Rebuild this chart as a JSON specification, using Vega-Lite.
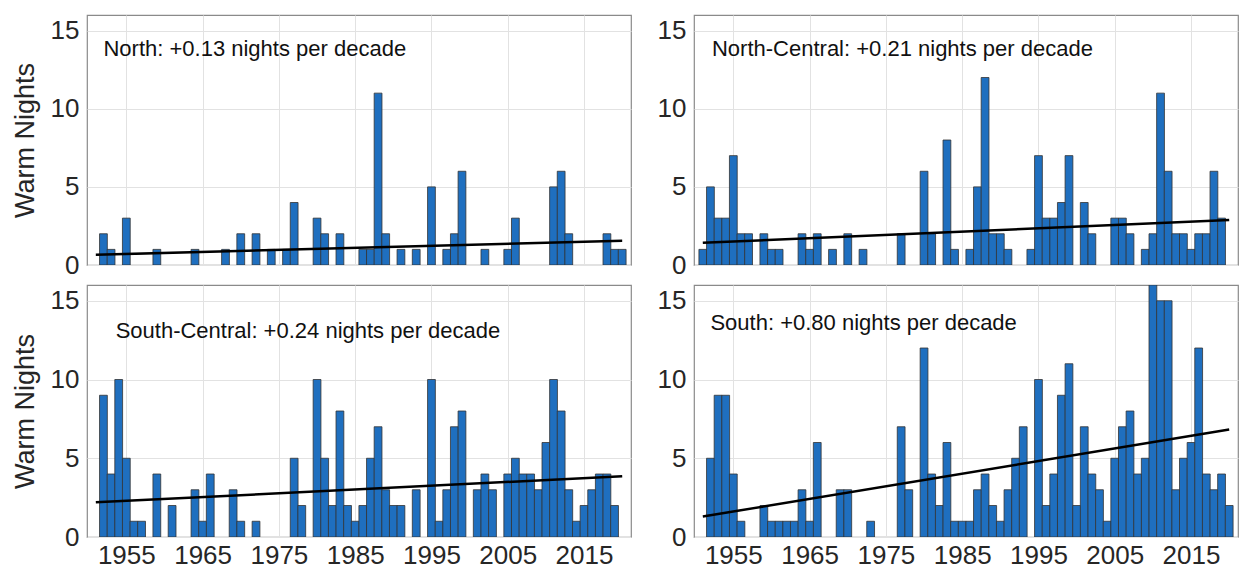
{
  "$schema": "https://vega.github.io/schema/vega-lite/v6.json",
  "background": "white",
  "padding": {"left": 10, "top": 14, "right": 0, "bottom": 0},
  "datasets": {
    "bars": [
      {"region": "North", "year": 1952, "nights": 2}, {"region": "North", "year": 1953, "nights": 1}, {"region": "North", "year": 1955, "nights": 3}, {"region": "North", "year": 1959, "nights": 1}, {"region": "North", "year": 1964, "nights": 1}, {"region": "North", "year": 1968, "nights": 1}, {"region": "North", "year": 1970, "nights": 2}, {"region": "North", "year": 1972, "nights": 2}, {"region": "North", "year": 1974, "nights": 1}, {"region": "North", "year": 1976, "nights": 1}, {"region": "North", "year": 1977, "nights": 4}, {"region": "North", "year": 1980, "nights": 3}, {"region": "North", "year": 1981, "nights": 2}, {"region": "North", "year": 1983, "nights": 2}, {"region": "North", "year": 1986, "nights": 1}, {"region": "North", "year": 1987, "nights": 1}, {"region": "North", "year": 1988, "nights": 11}, {"region": "North", "year": 1989, "nights": 2}, {"region": "North", "year": 1991, "nights": 1}, {"region": "North", "year": 1993, "nights": 1}, {"region": "North", "year": 1995, "nights": 5}, {"region": "North", "year": 1997, "nights": 1}, {"region": "North", "year": 1998, "nights": 2}, {"region": "North", "year": 1999, "nights": 6}, {"region": "North", "year": 2002, "nights": 1}, {"region": "North", "year": 2005, "nights": 1}, {"region": "North", "year": 2006, "nights": 3}, {"region": "North", "year": 2011, "nights": 5}, {"region": "North", "year": 2012, "nights": 6}, {"region": "North", "year": 2013, "nights": 2}, {"region": "North", "year": 2018, "nights": 2}, {"region": "North", "year": 2019, "nights": 1}, {"region": "North", "year": 2020, "nights": 1},
      {"region": "North-Central", "year": 1951, "nights": 1}, {"region": "North-Central", "year": 1952, "nights": 5}, {"region": "North-Central", "year": 1953, "nights": 3}, {"region": "North-Central", "year": 1954, "nights": 3}, {"region": "North-Central", "year": 1955, "nights": 7}, {"region": "North-Central", "year": 1956, "nights": 2}, {"region": "North-Central", "year": 1957, "nights": 2}, {"region": "North-Central", "year": 1959, "nights": 2}, {"region": "North-Central", "year": 1960, "nights": 1}, {"region": "North-Central", "year": 1961, "nights": 1}, {"region": "North-Central", "year": 1964, "nights": 2}, {"region": "North-Central", "year": 1965, "nights": 1}, {"region": "North-Central", "year": 1966, "nights": 2}, {"region": "North-Central", "year": 1968, "nights": 1}, {"region": "North-Central", "year": 1970, "nights": 2}, {"region": "North-Central", "year": 1972, "nights": 1}, {"region": "North-Central", "year": 1977, "nights": 2}, {"region": "North-Central", "year": 1980, "nights": 6}, {"region": "North-Central", "year": 1981, "nights": 2}, {"region": "North-Central", "year": 1983, "nights": 8}, {"region": "North-Central", "year": 1984, "nights": 1}, {"region": "North-Central", "year": 1986, "nights": 1}, {"region": "North-Central", "year": 1987, "nights": 5}, {"region": "North-Central", "year": 1988, "nights": 12}, {"region": "North-Central", "year": 1989, "nights": 2}, {"region": "North-Central", "year": 1990, "nights": 2}, {"region": "North-Central", "year": 1991, "nights": 1}, {"region": "North-Central", "year": 1994, "nights": 1}, {"region": "North-Central", "year": 1995, "nights": 7}, {"region": "North-Central", "year": 1996, "nights": 3}, {"region": "North-Central", "year": 1997, "nights": 3}, {"region": "North-Central", "year": 1998, "nights": 4}, {"region": "North-Central", "year": 1999, "nights": 7}, {"region": "North-Central", "year": 2001, "nights": 4}, {"region": "North-Central", "year": 2002, "nights": 2}, {"region": "North-Central", "year": 2005, "nights": 3}, {"region": "North-Central", "year": 2006, "nights": 3}, {"region": "North-Central", "year": 2007, "nights": 2}, {"region": "North-Central", "year": 2009, "nights": 1}, {"region": "North-Central", "year": 2010, "nights": 2}, {"region": "North-Central", "year": 2011, "nights": 11}, {"region": "North-Central", "year": 2012, "nights": 6}, {"region": "North-Central", "year": 2013, "nights": 2}, {"region": "North-Central", "year": 2014, "nights": 2}, {"region": "North-Central", "year": 2015, "nights": 1}, {"region": "North-Central", "year": 2016, "nights": 2}, {"region": "North-Central", "year": 2017, "nights": 2}, {"region": "North-Central", "year": 2018, "nights": 6}, {"region": "North-Central", "year": 2019, "nights": 3},
      {"region": "South-Central", "year": 1952, "nights": 9}, {"region": "South-Central", "year": 1953, "nights": 4}, {"region": "South-Central", "year": 1954, "nights": 10}, {"region": "South-Central", "year": 1955, "nights": 5}, {"region": "South-Central", "year": 1956, "nights": 1}, {"region": "South-Central", "year": 1957, "nights": 1}, {"region": "South-Central", "year": 1959, "nights": 4}, {"region": "South-Central", "year": 1961, "nights": 2}, {"region": "South-Central", "year": 1964, "nights": 3}, {"region": "South-Central", "year": 1965, "nights": 1}, {"region": "South-Central", "year": 1966, "nights": 4}, {"region": "South-Central", "year": 1969, "nights": 3}, {"region": "South-Central", "year": 1970, "nights": 1}, {"region": "South-Central", "year": 1972, "nights": 1}, {"region": "South-Central", "year": 1977, "nights": 5}, {"region": "South-Central", "year": 1978, "nights": 2}, {"region": "South-Central", "year": 1980, "nights": 10}, {"region": "South-Central", "year": 1981, "nights": 5}, {"region": "South-Central", "year": 1982, "nights": 2}, {"region": "South-Central", "year": 1983, "nights": 8}, {"region": "South-Central", "year": 1984, "nights": 2}, {"region": "South-Central", "year": 1985, "nights": 1}, {"region": "South-Central", "year": 1986, "nights": 2}, {"region": "South-Central", "year": 1987, "nights": 5}, {"region": "South-Central", "year": 1988, "nights": 7}, {"region": "South-Central", "year": 1989, "nights": 3}, {"region": "South-Central", "year": 1990, "nights": 2}, {"region": "South-Central", "year": 1991, "nights": 2}, {"region": "South-Central", "year": 1993, "nights": 3}, {"region": "South-Central", "year": 1995, "nights": 10}, {"region": "South-Central", "year": 1996, "nights": 1}, {"region": "South-Central", "year": 1997, "nights": 3}, {"region": "South-Central", "year": 1998, "nights": 7}, {"region": "South-Central", "year": 1999, "nights": 8}, {"region": "South-Central", "year": 2001, "nights": 3}, {"region": "South-Central", "year": 2002, "nights": 4}, {"region": "South-Central", "year": 2003, "nights": 3}, {"region": "South-Central", "year": 2005, "nights": 4}, {"region": "South-Central", "year": 2006, "nights": 5}, {"region": "South-Central", "year": 2007, "nights": 4}, {"region": "South-Central", "year": 2008, "nights": 4}, {"region": "South-Central", "year": 2009, "nights": 3}, {"region": "South-Central", "year": 2010, "nights": 6}, {"region": "South-Central", "year": 2011, "nights": 10}, {"region": "South-Central", "year": 2012, "nights": 8}, {"region": "South-Central", "year": 2013, "nights": 3}, {"region": "South-Central", "year": 2014, "nights": 1}, {"region": "South-Central", "year": 2015, "nights": 2}, {"region": "South-Central", "year": 2016, "nights": 3}, {"region": "South-Central", "year": 2017, "nights": 4}, {"region": "South-Central", "year": 2018, "nights": 4}, {"region": "South-Central", "year": 2019, "nights": 2},
      {"region": "South", "year": 1952, "nights": 5}, {"region": "South", "year": 1953, "nights": 9}, {"region": "South", "year": 1954, "nights": 9}, {"region": "South", "year": 1955, "nights": 4}, {"region": "South", "year": 1956, "nights": 1}, {"region": "South", "year": 1959, "nights": 2}, {"region": "South", "year": 1960, "nights": 1}, {"region": "South", "year": 1961, "nights": 1}, {"region": "South", "year": 1962, "nights": 1}, {"region": "South", "year": 1963, "nights": 1}, {"region": "South", "year": 1964, "nights": 3}, {"region": "South", "year": 1965, "nights": 1}, {"region": "South", "year": 1966, "nights": 6}, {"region": "South", "year": 1969, "nights": 3}, {"region": "South", "year": 1970, "nights": 3}, {"region": "South", "year": 1973, "nights": 1}, {"region": "South", "year": 1977, "nights": 7}, {"region": "South", "year": 1978, "nights": 3}, {"region": "South", "year": 1980, "nights": 12}, {"region": "South", "year": 1981, "nights": 4}, {"region": "South", "year": 1982, "nights": 2}, {"region": "South", "year": 1983, "nights": 6}, {"region": "South", "year": 1984, "nights": 1}, {"region": "South", "year": 1985, "nights": 1}, {"region": "South", "year": 1986, "nights": 1}, {"region": "South", "year": 1987, "nights": 3}, {"region": "South", "year": 1988, "nights": 4}, {"region": "South", "year": 1989, "nights": 2}, {"region": "South", "year": 1990, "nights": 1}, {"region": "South", "year": 1991, "nights": 3}, {"region": "South", "year": 1992, "nights": 5}, {"region": "South", "year": 1993, "nights": 7}, {"region": "South", "year": 1995, "nights": 10}, {"region": "South", "year": 1996, "nights": 2}, {"region": "South", "year": 1997, "nights": 4}, {"region": "South", "year": 1998, "nights": 9}, {"region": "South", "year": 1999, "nights": 11}, {"region": "South", "year": 2000, "nights": 2}, {"region": "South", "year": 2001, "nights": 7}, {"region": "South", "year": 2002, "nights": 4}, {"region": "South", "year": 2003, "nights": 3}, {"region": "South", "year": 2004, "nights": 1}, {"region": "South", "year": 2005, "nights": 5}, {"region": "South", "year": 2006, "nights": 7}, {"region": "South", "year": 2007, "nights": 8}, {"region": "South", "year": 2008, "nights": 4}, {"region": "South", "year": 2009, "nights": 5}, {"region": "South", "year": 2010, "nights": 16}, {"region": "South", "year": 2011, "nights": 15}, {"region": "South", "year": 2012, "nights": 15}, {"region": "South", "year": 2013, "nights": 3}, {"region": "South", "year": 2014, "nights": 5}, {"region": "South", "year": 2015, "nights": 6}, {"region": "South", "year": 2016, "nights": 12}, {"region": "South", "year": 2017, "nights": 4}, {"region": "South", "year": 2018, "nights": 3}, {"region": "South", "year": 2019, "nights": 4}, {"region": "South", "year": 2020, "nights": 2}
    ],
    "trends": [
      {"region": "North", "year": 1951, "trend": 0.65}, {"region": "North", "year": 2020, "trend": 1.55},
      {"region": "North-Central", "year": 1951, "trend": 1.42}, {"region": "North-Central", "year": 2020, "trend": 2.88},
      {"region": "South-Central", "year": 1951, "trend": 2.2}, {"region": "South-Central", "year": 2020, "trend": 3.86},
      {"region": "South", "year": 1951, "trend": 1.3}, {"region": "South", "year": 2020, "trend": 6.82}
    ],
    "labels": [
      {"region": "North", "label": "North: +0.13 nights per decade"},
      {"region": "North-Central", "label": "North-Central: +0.21 nights per decade"},
      {"region": "South-Central", "label": "South-Central: +0.24 nights per decade"},
      {"region": "South", "label": "South: +0.80 nights per decade"}
    ]
  },
  "config": {
    "font": "Liberation Sans",
    "view": {"stroke": "#8a8a8a", "strokeWidth": 1.2},
    "axis": {
      "labelFont": "Liberation Sans", "labelFontSize": 26, "labelColor": "#262626",
      "titleFont": "Liberation Sans", "titleFontSize": 27, "titleFontWeight": "normal", "titleColor": "#262626",
      "gridColor": "#e2e2e2", "gridWidth": 1, "domain": false, "ticks": false
    }
  },
  "spacing": 5,
  "vconcat": [
    {
      "spacing": 24,
      "hconcat": [
        {
          "width": 544, "height": 250,
          "layer": [
            {"data": {"name": "bars"}, "transform": [{"filter": "datum.region === 'North'"}],
             "mark": {"type": "bar", "size": 7.8, "fill": "#1f6fbf", "stroke": "#333333", "strokeWidth": 0.8, "clip": true},
             "encoding": {
               "x": {"field": "year", "type": "quantitative", "scale": {"domain": [1950.5, 2020.5], "nice": false, "zero": false}, "axis": {"values": [1955, 1965, 1975, 1985, 1995, 2005, 2015], "labels": false, "title": null, "grid": true}},
               "y": {"field": "nights", "type": "quantitative", "scale": {"domain": [0, 16], "nice": false}, "axis": {"values": [0, 5, 10, 15], "title": "Warm Nights", "grid": true, "labelPadding": 8, "titlePadding": 11}}
             }},
            {"data": {"name": "trends"}, "transform": [{"filter": "datum.region === 'North'"}],
             "mark": {"type": "line", "color": "black", "strokeWidth": 2.5},
             "encoding": {"x": {"field": "year", "type": "quantitative"}, "y": {"field": "trend", "type": "quantitative"}}},
            {"data": {"name": "labels"}, "transform": [{"filter": "datum.region === 'North'"}],
             "mark": {"type": "text", "align": "left", "baseline": "middle", "fontSize": 22, "color": "#111111"},
             "encoding": {"x": {"datum": 1952.0, "type": "quantitative"}, "y": {"datum": 13.85, "type": "quantitative"}, "text": {"field": "label"}}}
          ]
        },
        {
          "width": 544, "height": 250,
          "layer": [
            {"data": {"name": "bars"}, "transform": [{"filter": "datum.region === 'North-Central'"}],
             "mark": {"type": "bar", "size": 7.8, "fill": "#1f6fbf", "stroke": "#333333", "strokeWidth": 0.8, "clip": true},
             "encoding": {
               "x": {"field": "year", "type": "quantitative", "scale": {"domain": [1950.5, 2020.5], "nice": false, "zero": false}, "axis": {"values": [1955, 1965, 1975, 1985, 1995, 2005, 2015], "labels": false, "title": null, "grid": true}},
               "y": {"field": "nights", "type": "quantitative", "scale": {"domain": [0, 16], "nice": false}, "axis": {"values": [0, 5, 10, 15], "title": null, "grid": true, "labelPadding": 8}}
             }},
            {"data": {"name": "trends"}, "transform": [{"filter": "datum.region === 'North-Central'"}],
             "mark": {"type": "line", "color": "black", "strokeWidth": 2.5},
             "encoding": {"x": {"field": "year", "type": "quantitative"}, "y": {"field": "trend", "type": "quantitative"}}},
            {"data": {"name": "labels"}, "transform": [{"filter": "datum.region === 'North-Central'"}],
             "mark": {"type": "text", "align": "left", "baseline": "middle", "fontSize": 22, "color": "#111111"},
             "encoding": {"x": {"datum": 1952.2, "type": "quantitative"}, "y": {"datum": 13.85, "type": "quantitative"}, "text": {"field": "label"}}}
          ]
        }
      ]
    },
    {
      "spacing": 24,
      "hconcat": [
        {
          "width": 544, "height": 252,
          "layer": [
            {"data": {"name": "bars"}, "transform": [{"filter": "datum.region === 'South-Central'"}],
             "mark": {"type": "bar", "size": 7.8, "fill": "#1f6fbf", "stroke": "#333333", "strokeWidth": 0.8, "clip": true},
             "encoding": {
               "x": {"field": "year", "type": "quantitative", "scale": {"domain": [1950.5, 2020.5], "nice": false, "zero": false}, "axis": {"values": [1955, 1965, 1975, 1985, 1995, 2005, 2015], "format": "d", "title": null, "grid": true, "labelPadding": 5}},
               "y": {"field": "nights", "type": "quantitative", "scale": {"domain": [0, 16], "nice": false}, "axis": {"values": [0, 5, 10, 15], "title": "Warm Nights", "grid": true, "labelPadding": 8, "titlePadding": 11}}
             }},
            {"data": {"name": "trends"}, "transform": [{"filter": "datum.region === 'South-Central'"}],
             "mark": {"type": "line", "color": "black", "strokeWidth": 2.5},
             "encoding": {"x": {"field": "year", "type": "quantitative"}, "y": {"field": "trend", "type": "quantitative"}}},
            {"data": {"name": "labels"}, "transform": [{"filter": "datum.region === 'South-Central'"}],
             "mark": {"type": "text", "align": "left", "baseline": "middle", "fontSize": 22, "color": "#111111"},
             "encoding": {"x": {"datum": 1953.6, "type": "quantitative"}, "y": {"datum": 13.1, "type": "quantitative"}, "text": {"field": "label"}}}
          ]
        },
        {
          "width": 544, "height": 252,
          "layer": [
            {"data": {"name": "bars"}, "transform": [{"filter": "datum.region === 'South'"}],
             "mark": {"type": "bar", "size": 7.8, "fill": "#1f6fbf", "stroke": "#333333", "strokeWidth": 0.8, "clip": true},
             "encoding": {
               "x": {"field": "year", "type": "quantitative", "scale": {"domain": [1950.5, 2020.5], "nice": false, "zero": false}, "axis": {"values": [1955, 1965, 1975, 1985, 1995, 2005, 2015], "format": "d", "title": null, "grid": true, "labelPadding": 5}},
               "y": {"field": "nights", "type": "quantitative", "scale": {"domain": [0, 16], "nice": false}, "axis": {"values": [0, 5, 10, 15], "title": null, "grid": true, "labelPadding": 8}}
             }},
            {"data": {"name": "trends"}, "transform": [{"filter": "datum.region === 'South'"}],
             "mark": {"type": "line", "color": "black", "strokeWidth": 2.5},
             "encoding": {"x": {"field": "year", "type": "quantitative"}, "y": {"field": "trend", "type": "quantitative"}}},
            {"data": {"name": "labels"}, "transform": [{"filter": "datum.region === 'South'"}],
             "mark": {"type": "text", "align": "left", "baseline": "middle", "fontSize": 22, "color": "#111111"},
             "encoding": {"x": {"datum": 1952.0, "type": "quantitative"}, "y": {"datum": 13.6, "type": "quantitative"}, "text": {"field": "label"}}}
          ]
        }
      ]
    }
  ]
}
